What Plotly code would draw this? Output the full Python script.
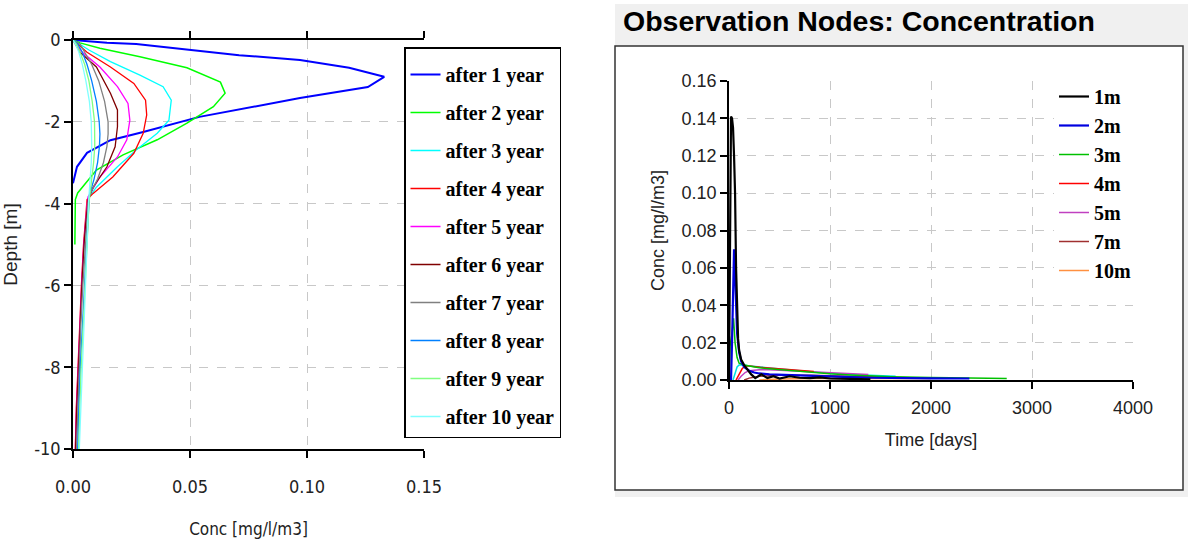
import plotly.graph_objects as go

W, H = 1188, 548

# ---------------- Left panel data: concentration profiles vs depth ----------------
year_names = ["after 1 year", "after 2 year", "after 3 year", "after 4 year", "after 5 year",
              "after 6 year", "after 7 year", "after 8 year", "after 9 year", "after 10 year"]
year_colors = ["#0000ff", "#00ff00", "#00ffff", "#ff0000", "#ff00ff",
               "#800000", "#808080", "#0080ff", "#80ff80", "#80ffff"]
year_widths = [2, 1.5, 1.3, 1.3, 1.3, 1.3, 1.3, 1.3, 1.3, 1.3]

depth_y1 = [0, -0.07, -0.1, -0.2, -0.37, -0.49, -0.68, -0.9, -1.15, -1.42, -1.66, -1.88, -2.25, -2.45, -2.76, -3.1, -3.5]
conc_y1 = [0, 0.0145, 0.027, 0.044, 0.071, 0.097, 0.118, 0.133, 0.126, 0.097, 0.074, 0.054, 0.030, 0.016, 0.006, 0.0017, 0]

depth_y2 = [0, -0.07, -0.2, -0.41, -0.68, -1.03, -1.3, -1.63, -2.03, -2.44, -2.81, -3.18, -3.74, -3.9, -4.4, -5.0]
conc_y2 = [0, 0.003, 0.0115, 0.0286, 0.0487, 0.063, 0.065, 0.060, 0.0487, 0.036, 0.0214, 0.010, 0.002, 0.001, 0.0009, 0.0008]

depth_y3 = [0, -0.25, -0.53, -0.86, -1.14, -1.47, -1.96, -2.28, -2.69, -3.1, -3.6, -3.84, -4.5, -5, -6, -7, -8, -9, -10]
conc_y3 = [0, 0.007, 0.016, 0.0286, 0.0385, 0.042, 0.041, 0.036, 0.027, 0.019, 0.010, 0.007, 0.0055, 0.0048, 0.0038, 0.003, 0.0023, 0.0017, 0.0012]

depth_y4 = [0, -0.3, -0.66, -1.06, -1.47, -1.83, -2.28, -2.77, -3.35, -3.75, -3.9, -4.5, -5, -6, -7, -8, -9, -10]
conc_y4 = [0, 0.006, 0.016, 0.026, 0.031, 0.0315, 0.030, 0.026, 0.017, 0.0086, 0.006, 0.0052, 0.0045, 0.0036, 0.0028, 0.002, 0.0014, 0.001]

depth_y5 = [0, -0.3, -0.66, -1.14, -1.55, -1.96, -2.44, -2.86, -3.35, -3.84, -4.5, -5, -6, -7, -8, -9, -10]
conc_y5 = [0, 0.004, 0.0115, 0.019, 0.0235, 0.0243, 0.023, 0.019, 0.0115, 0.0064, 0.0053, 0.0046, 0.0037, 0.0029, 0.0021, 0.0015, 0.001]

depth_y6 = [0, -0.3, -0.66, -1.3, -1.71, -2.12, -2.61, -3.1, -3.6, -3.9, -4.5, -5, -6, -7, -8, -9, -10]
conc_y6 = [0, 0.003, 0.010, 0.016, 0.019, 0.019, 0.018, 0.0145, 0.0086, 0.0065, 0.0054, 0.0047, 0.0038, 0.003, 0.0022, 0.0016, 0.0011]

depth_y7 = [0, -0.1, -0.3, -0.6, -1.0, -1.5, -2.0, -2.3, -2.6, -3.0, -3.4, -3.8, -4.0, -5, -6, -7, -8, -9, -10]
conc_y7 = [0, 0.003, 0.005, 0.008, 0.011, 0.0135, 0.015, 0.015, 0.0145, 0.013, 0.0105, 0.007, 0.0065, 0.0052, 0.0042, 0.0033, 0.0026, 0.002, 0.0015]

conc_y8 = [0, 0.002, 0.004, 0.006, 0.008, 0.010, 0.0112, 0.0115, 0.0113, 0.0105, 0.009, 0.007, 0.0068, 0.0058, 0.0048, 0.0039, 0.0031, 0.0025, 0.002]
conc_y9 = [0, 0.0015, 0.003, 0.005, 0.0068, 0.0082, 0.0092, 0.0094, 0.0093, 0.0088, 0.008, 0.007, 0.0068, 0.006, 0.0051, 0.0042, 0.0035, 0.0029, 0.0024]
conc_y10 = [0, 0.001, 0.0025, 0.004, 0.0055, 0.007, 0.0078, 0.008, 0.008, 0.0078, 0.0074, 0.0068, 0.0066, 0.006, 0.0053, 0.0045, 0.0038, 0.0032, 0.0027]

profiles = [(conc_y1, depth_y1), (conc_y2, depth_y2), (conc_y3, depth_y3), (conc_y4, depth_y4),
            (conc_y5, depth_y5), (conc_y6, depth_y6), (conc_y7, depth_y7), (conc_y8, depth_y7),
            (conc_y9, depth_y7), (conc_y10, depth_y7)]

depth_tickvals = [0, -2, -4, -6, -8, -10]
depth_ticktext = ["0", "-2", "-4", "-6", "-8", "-10"]
conc_tickvals = [0.0, 0.05, 0.10, 0.15]

# ---------------- Right panel data: observation nodes vs time ----------------
node_names = ["1m", "2m", "3m", "4m", "5m", "7m", "10m"]
node_colors = ["#000000", "#0000e0", "#00c000", "#ff0000", "#c040c0", "#a03030", "#ff9040"]
node_widths = [2.2, 2.2, 1.5, 1.5, 1.5, 1.5, 1.5]

t_1m = [0, 10, 20, 30, 40, 50, 60, 70, 80, 90, 100, 120, 150, 180, 220, 260, 320, 380, 440, 500, 600, 700, 800, 900, 1000, 1200, 1400]
c_1m = [0, 0.06, 0.141, 0.14, 0.135, 0.12, 0.10, 0.06, 0.035, 0.022, 0.016, 0.011, 0.008, 0.006, 0.003, 0.001, 0.003, 0.001, 0.002, 0.0008, 0.002, 0.0012, 0.001, 0.0014, 0.0008, 0.0006, 0.0004]

t_2m = [0, 20, 30, 40, 50, 60, 70, 80, 100, 120, 150, 200, 250, 300, 400, 500, 600, 800, 1000, 1200, 1400, 1600, 2000, 2380]
c_2m = [0, 0.0, 0.02, 0.05, 0.070, 0.057, 0.036, 0.025, 0.015, 0.010, 0.007, 0.005, 0.004, 0.0035, 0.003, 0.0028, 0.0025, 0.002, 0.0018, 0.0015, 0.0012, 0.001, 0.0009, 0.0008]

t_3m = [0, 10, 30, 45, 60, 80, 100, 150, 200, 300, 400, 600, 800, 1000, 1200, 1600, 2000, 2400, 2750]
c_3m = [0, 0.018, 0.025, 0.033, 0.020, 0.012, 0.009, 0.008, 0.0075, 0.0065, 0.006, 0.005, 0.004, 0.0033, 0.0027, 0.0018, 0.0013, 0.001, 0.0008]

t_6m = [40, 60, 80, 100, 150, 200, 300, 400, 600, 800, 1000, 1200, 1400, 1650]
c_6m = [0, 0.004, 0.007, 0.008, 0.008, 0.0075, 0.007, 0.0065, 0.0055, 0.0045, 0.0035, 0.003, 0.0025, 0.002]

t_4m = [70, 100, 130, 160, 200, 310, 440, 670, 840]
c_4m = [0, 0.003, 0.006, 0.0075, 0.0075, 0.0068, 0.0062, 0.0052, 0.0045]

t_5m = [90, 120, 160, 200, 300, 400, 600, 800, 1000, 1220, 1380]
c_5m = [0, 0.002, 0.004, 0.005, 0.0055, 0.0055, 0.005, 0.0045, 0.004, 0.0033, 0.003]

t_7m = [150, 200, 300, 500, 800, 1200, 1600, 2000]
c_7m = [0, 0.001, 0.002, 0.0025, 0.0025, 0.002, 0.0015, 0.001]

t_10m = [300, 500, 1000, 1500, 2000]
c_10m = [0, 0.0005, 0.001, 0.001, 0.0008]

node_series = [(t_1m, c_1m), (t_2m, c_2m), (t_3m, c_3m), (t_4m, c_4m), (t_5m, c_5m), (t_7m, c_7m), (t_10m, c_10m)]

time_tickvals = [0, 1000, 2000, 3000, 4000]
obsconc_tickvals = [0.0, 0.02, 0.04, 0.06, 0.08, 0.10, 0.12, 0.14, 0.16]

# ---------------- helpers ----------------
def px_x(p):
    return p / W

def px_y(p):
    return 1 - p / H

fig = go.Figure()

for i, (name, col, lw) in enumerate(zip(year_names, year_colors, year_widths)):
    cx, dy = profiles[i]
    fig.add_trace(go.Scatter(x=cx, y=dy, mode="lines", name=name,
                             line=dict(color=col, width=lw),
                             legend="legend", legendgroup="g%d" % i,
                             xaxis="x", yaxis="y"))

# unlabeled cyan series on the right (no legend entry)
fig.add_trace(go.Scatter(x=t_6m, y=c_6m, mode="lines", name="6m", showlegend=False,
                         line=dict(color="#00e0e0", width=1.5), xaxis="x2", yaxis="y2"))
order = [6, 5, 4, 3, 2, 1, 0]
for i in order:
    t, c = node_series[i]
    fig.add_trace(go.Scatter(x=t, y=c, mode="lines", name=node_names[i],
                             line=dict(color=node_colors[i], width=node_widths[i]),
                             legend="legend2", legendrank=i + 1,
                             xaxis="x2", yaxis="y2"))

grid = dict(showgrid=True, gridcolor="#c8c8c8", griddash="dash", gridwidth=1, zeroline=False,
            automargin=False)
narrow = "Liberation Sans Narrow, DejaVu Sans Condensed, Liberation Sans, Arial"
sans = "Liberation Sans, Arial, sans-serif"
serif = "Liberation Serif, Times New Roman, serif"

fig.update_layout(
    width=W, height=H,
    margin=dict(l=0, r=0, t=0, b=0, autoexpand=False),
    paper_bgcolor="white", plot_bgcolor="white",
    showlegend=True,
    xaxis=dict(domain=[px_x(73), px_x(424)], range=[0, 0.15], tickvals=conc_tickvals,
               tickformat=".2f", showline=True, linecolor="black", linewidth=1.5, mirror="ticks",
               ticks="outside", ticklen=7, tickcolor="black", tickwidth=1.5,
               ticklabelstandoff=14,
               tickfont=dict(family=narrow, size=18, color="#222"),
               title=dict(text="Conc [mg/l/m3]", font=dict(family=narrow, size=17, color="#222"), standoff=27),
               anchor="y", **grid),
    yaxis=dict(domain=[px_y(449), px_y(40)], range=[-10, 0], tickvals=depth_tickvals,
               ticktext=depth_ticktext, showline=True, linecolor="black", linewidth=1.5,
               ticks="outside", ticklen=7, tickcolor="black", tickwidth=1.5,
               tickfont=dict(family=narrow, size=18, color="#222"),
               title=dict(text="Depth [m]", font=dict(family=sans, size=19, color="#222"), standoff=14),
               anchor="x", **grid),
    xaxis2=dict(domain=[px_x(729), px_x(1133)], range=[0, 4000], tickvals=time_tickvals,
                showline=True, linecolor="black", linewidth=1.5, ticks="outside", ticklen=7,
                tickcolor="black", tickwidth=1.5, ticklabelstandoff=4,
                tickfont=dict(family=sans, size=18, color="#222"),
                title=dict(text="Time [days]", font=dict(family=sans, size=18, color="#222"), standoff=16),
                anchor="y2", **grid),
    yaxis2=dict(domain=[px_y(380), px_y(81)], range=[0, 0.16], tickvals=obsconc_tickvals,
                tickformat=".2f", showline=True, linecolor="black", linewidth=1.5, ticks="outside",
                ticklen=7, tickcolor="black", tickwidth=1.5,
                tickfont=dict(family=sans, size=18, color="#222"),
                title=dict(text="Conc [mg/l/m3]", font=dict(family=sans, size=18, color="#222"), standoff=12),
                anchor="x2", **grid),
    legend=dict(x=px_x(404), y=px_y(47), xanchor="left", yanchor="top",
                bgcolor="white", bordercolor="black", borderwidth=1.5,
                title=dict(text=" ", font=dict(size=5)),
                font=dict(family=serif, size=20, color="black", weight="bold"),
                tracegroupgap=9, traceorder="grouped"),
    legend2=dict(x=px_x(1054), y=px_y(77), xanchor="left", yanchor="top",
                 bgcolor="white", borderwidth=0,
                 font=dict(family=serif, size=20, color="black", weight="bold"),
                 traceorder="normal", tracegroupgap=0),
    shapes=[
        dict(type="rect", xref="paper", yref="paper", x0=px_x(615), x1=1, y0=px_y(497), y1=px_y(4),
             fillcolor="#f0f0f0", line=dict(width=0), layer="below"),
        dict(type="rect", xref="paper", yref="paper", x0=px_x(615), x1=px_x(1183), y0=px_y(490), y1=px_y(46),
             fillcolor="white", line=dict(color="#333", width=1.5), layer="below"),
    ],
    annotations=[
        dict(text="Observation Nodes: Concentration", xref="paper", yref="paper",
             x=px_x(621), y=px_y(21), xanchor="left", yanchor="middle", showarrow=False,
             font=dict(family=sans, size=28.5, color="black", weight="bold")),
    ],
)

fig.write_html("out.html")
